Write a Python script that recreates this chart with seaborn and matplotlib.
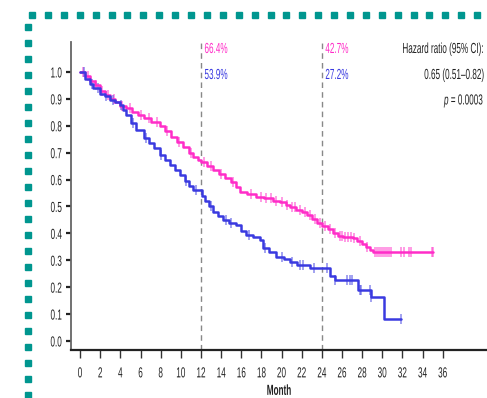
import matplotlib
matplotlib.use("Agg")
import matplotlib.pyplot as plt
from matplotlib.lines import Line2D
from matplotlib.patheffects import AbstractPathEffect
from matplotlib.transforms import Affine2D
import numpy as np
import pandas as pd
import seaborn as sns

# ---------------- data ----------------
pink_t = [0, 0.5, 1, 1.5, 2, 2.5, 3, 3.5, 4, 4.6, 5.2, 5.8, 6.3, 7, 7.9, 8.4, 9, 9.6,
          10.2, 10.8, 11.2, 11.7, 12, 12.6, 13.2, 13.8, 14.4, 15, 15.5, 15.9, 16.6, 17.5,
          18.3, 19.2, 19.8, 20.4, 20.8, 21.4, 22, 22.5, 23, 23.5, 24, 24.6, 25.1, 25.6,
          26.1, 27.1, 27.5, 28, 28.4, 28.8, 29.1, 35.0]
pink_s = [1.0, 0.985, 0.965, 0.95, 0.93, 0.915, 0.90, 0.89, 0.875, 0.865, 0.85, 0.84,
          0.83, 0.815, 0.80, 0.78, 0.76, 0.74, 0.72, 0.70, 0.685, 0.672, 0.664, 0.652,
          0.635, 0.62, 0.605, 0.59, 0.574, 0.555, 0.545, 0.536, 0.53, 0.522, 0.515, 0.505,
          0.497, 0.487, 0.48, 0.47, 0.455, 0.44, 0.427, 0.415, 0.40, 0.392, 0.386, 0.383,
          0.37, 0.36, 0.35, 0.338, 0.332, 0.332]
pink_cens = [0.3, 0.8, 1.6, 2.2, 2.8, 3.4, 4.2, 5.0, 6.0, 6.8, 7.6, 8.6, 9.8, 11.0, 12.3,
             13.0, 14.0, 15.2, 17.0, 18.0, 18.5, 19.0, 19.5, 20.0, 20.5, 21.0, 21.3, 21.8,
             22.3, 22.8, 23.3, 23.8, 24.3, 24.8, 25.3, 25.8, 26.0, 26.3, 26.6, 26.9, 27.2,
             27.8, 28.5, 29.3, 29.5, 29.7, 29.9, 30.1, 30.3, 30.5, 30.7, 30.9, 31.9, 32.2,
             32.7, 32.9, 34.9, 35.0]

blue_t = [0, 0.5, 1.0, 1.3, 2, 2.5, 3, 3.5, 4, 4.3, 4.6, 5.1, 5.6, 6.3, 6.8, 7.3, 7.9,
          8.4, 8.9, 9.4, 9.9, 10.4, 10.8, 11.2, 12.1, 12.4, 12.8, 13.2, 13.7, 14.2, 14.8,
          15.5, 16, 16.5, 17.2, 17.9, 18.2, 18.8, 19.5, 20.2, 20.8, 21.5, 22.8, 24.8, 25.3,
          27.6, 28.9, 30.2, 31.9]
blue_s = [1.0, 0.975, 0.955, 0.94, 0.92, 0.91, 0.896, 0.887, 0.877, 0.86, 0.84, 0.81,
          0.784, 0.753, 0.735, 0.716, 0.69, 0.672, 0.654, 0.636, 0.617, 0.595, 0.575, 0.56,
          0.539, 0.52, 0.50, 0.48, 0.465, 0.45, 0.44, 0.43, 0.41, 0.394, 0.385, 0.375,
          0.345, 0.33, 0.313, 0.303, 0.295, 0.283, 0.27, 0.24, 0.227, 0.19, 0.162, 0.082,
          0.082]
blue_cens = [0.4, 1.2, 1.8, 2.6, 3.3, 4.1, 5.3, 6.5, 8.0, 10.5, 11.5, 13.0, 14.5, 15.0,
             16.8, 18.4, 20.0, 21.0, 21.8, 22.1, 23.2, 24.5, 25.3, 26.5, 26.8, 27.0, 27.8,
             27.9, 28.8, 28.9, 31.9]

x_ticks = list(range(0, 37, 2))
y_ticks = [0.0, 0.1, 0.2, 0.3, 0.4, 0.5, 0.6, 0.7, 0.8, 0.9, 1.0]
landmarks = [12, 24]
pink_pct = ["66.4%", "42.7%"]
blue_pct = ["53.9%", "27.2%"]
hr_lines = ["Hazard ratio (95% CI):", "0.65 (0.51\u20130.82)"]
p_text = r"$\it{p}$ = 0.0003"

PINK = "#FF2DC8"
BLUE = "#3A3AE0"
TEAL = "#00968F"
SX = 0.56  # horizontal condensation of the narrow typeface


class Condense(AbstractPathEffect):
    """Draw text horizontally condensed (narrow typeface look)."""

    def __init__(self, sx=SX, ha="left"):
        super().__init__()
        self.sx = sx
        self.ha = ha

    def draw_path(self, renderer, gc, tpath, affine, rgbFace=None):
        ext = tpath.get_extents()
        if self.ha == "right":
            a = ext.x1
        elif self.ha == "center":
            a = 0.5 * (ext.x0 + ext.x1)
        else:
            a = 0.0
        t = Affine2D().translate(-a, 0).scale(self.sx, 1).translate(a, 0)
        renderer.draw_path(gc, tpath, t + affine, rgbFace)


# ---------------- style ----------------
sns.set_theme(style="white")
plt.rcParams["font.family"] = ["Liberation Sans", "DejaVu Sans"]
plt.rcParams["mathtext.fontset"] = "custom"
plt.rcParams["mathtext.it"] = "Liberation Sans:italic"
plt.rcParams["mathtext.rm"] = "Liberation Sans"

W, H = 487, 398
fig = plt.figure(figsize=(W / 100, H / 100), dpi=100)
ax = fig.add_axes([71 / W, 1 - 350 / H, 1 - 71 / W, (350 - 42) / H])

YLO, YHI = -0.0335, 1.1115


def step_value(ts, ss, t):
    idx = np.searchsorted(np.asarray(ts), t, side="right") - 1
    return np.asarray(ss)[idx]


curves = pd.concat([
    pd.DataFrame({"t": pink_t, "s": pink_s, "arm": "A"}),
    pd.DataFrame({"t": blue_t, "s": blue_s, "arm": "B"}),
])
for arm, col, ts, ss, cens in [("A", PINK, pink_t, pink_s, pink_cens),
                               ("B", BLUE, blue_t, blue_s, blue_cens)]:
    d = curves[curves.arm == arm]
    sns.lineplot(data=d, x="t", y="s", ax=ax, color=col, lw=1.8,
                 drawstyle="steps-post", estimator=None, sort=False, legend=False)
    cd = pd.DataFrame({"t": cens, "s": step_value(ts, ss, np.asarray(cens))})
    sns.scatterplot(data=cd, x="t", y="s", ax=ax, marker="|", color=col, s=45,
                    linewidth=1.1, alpha=0.6, legend=False)

for lm in landmarks:
    ax.axvline(lm, color="#888888", lw=1.0, ls=(0, (4, 3)), zorder=0)

ax.set_xlim(-0.9, 40.4)
ax.set_ylim(YLO, YHI)
ax.set_xticks(x_ticks)
ax.set_xticklabels([str(v) for v in x_ticks])
ax.set_yticks(y_ticks)
ax.set_yticklabels([f"{v:.1f}" for v in y_ticks])
ax.tick_params(axis="x", direction="out", length=5.8, width=1.0, color="#333333",
               labelsize=10.5, pad=6, bottom=True, labelcolor="#222222")
ax.tick_params(axis="y", direction="out", length=3.3, width=1.6, color="#222222",
               labelsize=10.5, pad=3, left=True, labelcolor="#222222")
ax.set_xlabel("Month", fontsize=10.5, fontweight="bold", labelpad=2.5, color="#222222")
ax.xaxis.label.set_path_effects([Condense(SX, "center")])
ax.set_ylabel("")
for lbl in ax.get_xticklabels():
    lbl.set_path_effects([Condense(SX, "center")])
for lbl in ax.get_yticklabels():
    lbl.set_path_effects([Condense(SX, "right")])
for side in ["top", "right"]:
    ax.spines[side].set_visible(False)
ax.spines["left"].set_color("#666666")
ax.spines["left"].set_linewidth(1.3)
ax.spines["bottom"].set_color("#222222")
ax.spines["bottom"].set_linewidth(1.6)


def ay(py):
    return YLO + (350 - py) / 308 * (YHI - YLO)


for lm, pp, bp in zip(landmarks, pink_pct, blue_pct):
    t1 = ax.text(lm + 0.35, ay(49), pp, color=PINK, fontsize=10.5, va="center", ha="left")
    t2 = ax.text(lm + 0.35, ay(75), bp, color=BLUE, fontsize=10.5, va="center", ha="left")
    t1.set_path_effects([Condense(SX, "left")])
    t2.set_path_effects([Condense(SX, "left")])

for txt, py in [(hr_lines[0], 49), (hr_lines[1], 75), (p_text, 101)]:
    t = ax.text(40.2, ay(py), txt, color="#222222", fontsize=10.5, va="center",
                ha="right")
    t.set_path_effects([Condense(SX, "right")])

# decorative teal dotted border
xs = np.arange(32, W + 8, 15.9)
fig.add_artist(Line2D(xs / W, np.full_like(xs, 1 - 15 / H), ls="none", marker="s",
                      ms=5, color=TEAL, transform=fig.transFigure))
ys = np.arange(27, H + 8, 16.0)
fig.add_artist(Line2D(np.full_like(ys, 28 / W), 1 - ys / H, ls="none",
                      marker="s", ms=5, color=TEAL, transform=fig.transFigure))

fig.savefig("out.png", dpi=100)
